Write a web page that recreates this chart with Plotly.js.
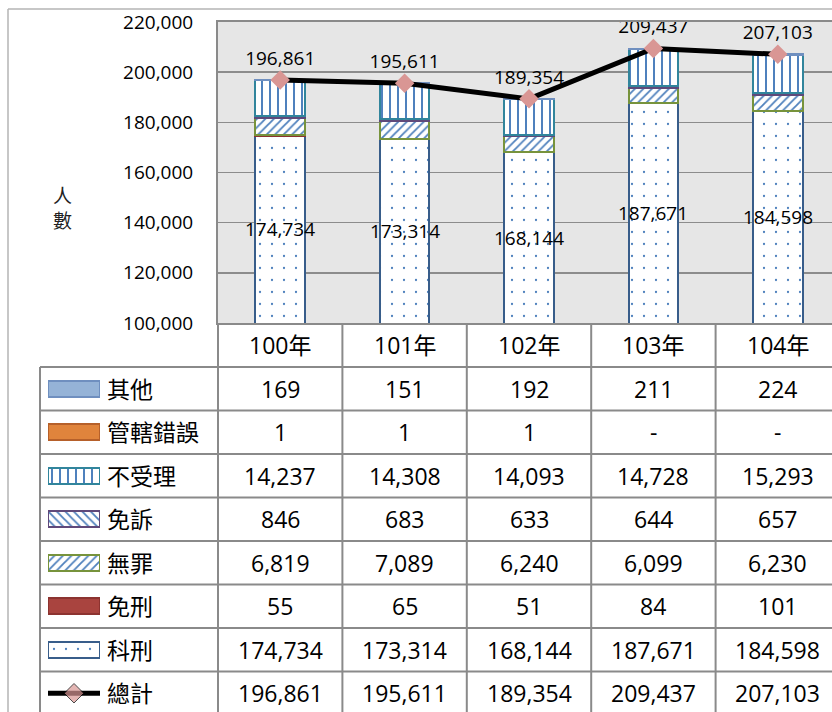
<!DOCTYPE html>
<html>
<head>
<meta charset="utf-8">
<script src="https://cdn.plot.ly/plotly-3.0.1.min.js"></script>
<style>
html, body { margin: 0; padding: 0; overflow: hidden; background: #fff; }
#chart { width: 850px; height: 712px; }
</style>
</head>
<body>
<div id="chart"></div>
<script>
// ---- data ----
const years = ['100年', '101年', '102年', '103年', '104年'];
const rowLabels = ['其他', '管轄錯誤', '不受理', '免訴', '無罪', '免刑', '科刑', '總計'];
const other = [169, 151, 192, 211, 224];              // 其他
const jurisdictionError = [1, 1, 1, null, null];      // 管轄錯誤
const notAccepted = [14237, 14308, 14093, 14728, 15293]; // 不受理
const dismissed = [846, 683, 633, 644, 657];          // 免訴
const acquitted = [6819, 7089, 6240, 6099, 6230];     // 無罪
const exempted = [55, 65, 51, 84, 101];               // 免刑
const sentenced = [174734, 173314, 168144, 187671, 184598]; // 科刑
const total = [196861, 195611, 189354, 209437, 207103];     // 總計
const yTicks = [100000, 120000, 140000, 160000, 180000, 200000, 220000];

// ---- layout helpers ----
const W = 850, H = 712;
const FONT = '"Open Sans", "Noto Sans CJK TC", sans-serif';
const px = x => x / W;
const py = y => 1 - y / H;
const fmt = v => (v === null || v === undefined) ? '-' : v.toLocaleString('en-US');
const BLUE = '#4F81BD';

// series styles, bottom -> top of stack
const series = [
  { name: '科刑', data: sentenced, color: '#ffffff', line: '#385D8A', pattern: { shape: '.', size: 12, solidity: 0.028 } },
  { name: '免刑', data: exempted, color: '#A9443F', line: '#8C3330' },
  { name: '無罪', data: acquitted, color: '#ffffff', line: '#77933C', pattern: { shape: '/', size: 6, solidity: 0.3 } },
  { name: '免訴', data: dismissed, color: '#ffffff', line: '#5F497A', pattern: { shape: '\\', size: 6, solidity: 0.3 } },
  { name: '不受理', data: notAccepted, color: '#ffffff', line: '#31859C', pattern: { shape: '|', size: 8, solidity: 0.25 } },
  { name: '管轄錯誤', data: jurisdictionError, color: '#E0843C', line: '#B6602A' },
  { name: '其他', data: other, color: '#95B3D7', line: '#6F8FBF' }
];

function markerFor(s) {
  const m = { color: s.color, line: { color: s.line, width: 2 } };
  if (s.pattern) {
    m.pattern = { shape: s.pattern.shape, size: s.pattern.size, solidity: s.pattern.solidity,
                  fgcolor: BLUE, bgcolor: '#ffffff', fillmode: 'replace' };
  }
  return m;
}

const traces = [];
series.forEach(s => {
  traces.push({
    type: 'bar', x: years, y: s.data, name: s.name, width: 0.4,
    marker: markerFor(s), hoverinfo: 'skip', showlegend: false
  });
});

traces.push({
  type: 'scatter', mode: 'lines+markers+text', x: years, y: total, name: '總計',
  text: total.map(fmt), textposition: 'top center',
  textfont: { family: FONT, size: 19, color: '#000' },
  line: { color: '#000', width: 5 },
  marker: { symbol: 'diamond', size: 15, color: '#D99694' },
  cliponaxis: false, hoverinfo: 'skip', showlegend: false
});

// legend keys inside the table (row index k)
rowLabels.forEach((lab, k) => {
  const s = series.find(q => q.name === lab);
  if (s) {
    traces.push({
      type: 'bar', orientation: 'h', xaxis: 'x2', yaxis: 'y2',
      x: [1], y: [k], base: 0, width: 0.36, marker: markerFor(s),
      hoverinfo: 'skip', showlegend: false
    });
  }
});
traces.push({
  type: 'scatter', mode: 'lines+markers', xaxis: 'x2', yaxis: 'y2',
  x: [-0.03, 0.5, 1.0], y: [7, 7, 7],
  line: { color: '#000', width: 5 },
  marker: { symbol: 'diamond', size: [0, 15, 0], color: '#D99694' },
  cliponaxis: false, hoverinfo: 'skip', showlegend: false
});

// ---- table geometry (pixels) ----
const tableTop = 367, rowH = 43.5;
const headerCenter = 345;
const rowCenter = k => tableTop + rowH * (k + 0.5);
const GRIDC = '#8A8A8A';

const shapes = [];
// gray plot background of the main chart only
shapes.push({ type: 'rect', xref: 'x domain', yref: 'y domain', x0: 0, x1: 1, y0: 0, y1: 1,
  fillcolor: '#E6E6E6', line: { width: 0 }, layer: 'below' });
// outer chart border
shapes.push({ type: 'line', xref: 'paper', yref: 'paper', x0: px(8), x1: 1, y0: py(9), y1: py(9), line: { color: '#B4B4B4', width: 1.5 } });
shapes.push({ type: 'line', xref: 'paper', yref: 'paper', x0: px(8), x1: px(8), y0: py(9), y1: 0, line: { color: '#B4B4B4', width: 1.5 } });
// horizontal table lines
for (let k = 0; k < rowLabels.length; k++) {
  const y = tableTop + rowH * k;
  shapes.push({ type: 'line', xref: 'paper', yref: 'paper', x0: px(40), x1: 1, y0: py(y), y1: py(y), line: { color: GRIDC, width: 2 } });
}
// vertical table lines
shapes.push({ type: 'line', xref: 'paper', yref: 'paper', x0: px(40), x1: px(40), y0: py(tableTop), y1: 0, line: { color: GRIDC, width: 2 } });
shapes.push({ type: 'line', xref: 'paper', yref: 'paper', x0: px(218), x1: px(218), y0: py(323), y1: 0, line: { color: GRIDC, width: 2 } });
for (let i = 0; i < years.length; i++) {
  shapes.push({ type: 'line', xref: 'x', yref: 'paper', x0: i + 0.5, x1: i + 0.5, y0: py(323), y1: 0, line: { color: GRIDC, width: 2 } });
}

const annotations = [];
const ann = o => Object.assign({ showarrow: false, xanchor: 'center', yanchor: 'middle' }, o);
// y axis title
annotations.push(ann({ xref: 'paper', yref: 'paper', x: px(62), y: py(208), text: '人<br>數',
  font: { family: FONT, size: 19, color: '#222' }, align: 'center' }));
// 科刑 labels inside bars
sentenced.forEach((v, i) => {
  annotations.push(ann({ xref: 'x', yref: 'y', x: i, y: (yTicks[0] + v) / 2, text: fmt(v),
    font: { family: FONT, size: 19, color: '#000' } }));
});
// header years
years.forEach((yr, i) => {
  annotations.push(ann({ xref: 'x', yref: 'paper', x: i, y: py(headerCenter), text: yr,
    font: { family: FONT, size: 23, color: '#000' } }));
});
// table rows
const rowData = [other, jurisdictionError, notAccepted, dismissed, acquitted, exempted, sentenced, total];
rowLabels.forEach((lab, k) => {
  annotations.push(ann({ xref: 'paper', yref: 'paper', x: px(105), y: py(rowCenter(k)), xanchor: 'left', text: lab,
    font: { family: FONT, size: 23, color: '#000' } }));
  rowData[k].forEach((v, i) => {
    annotations.push(ann({ xref: 'x', yref: 'paper', x: i, y: py(rowCenter(k)), text: fmt(v),
      font: { family: FONT, size: 23, color: '#000' } }));
  });
});

const layout = {
  width: W, height: H,
  margin: { l: 0, r: 0, t: 0, b: 0 },
  paper_bgcolor: '#ffffff', plot_bgcolor: 'rgba(0,0,0,0)',
  barmode: 'stack', showlegend: false,
  font: { family: FONT, color: '#000' },
  xaxis: {
    domain: [px(218), px(840)], type: 'category', range: [-0.5, 4.5],
    showticklabels: false, showgrid: false, zeroline: false, ticks: '',
    showline: true, linecolor: GRIDC, linewidth: 2, mirror: true, fixedrange: true
  },
  yaxis: {
    domain: [py(323), py(22)], range: [100000, 220000],
    tickvals: yTicks, tickformat: ',d',
    tickfont: { family: FONT, size: 19, color: '#000' },
    gridcolor: '#8C8C8C', gridwidth: 1.5, zeroline: false,
    showline: true, linecolor: GRIDC, linewidth: 2,
    ticks: 'outside', ticklen: 19, tickcolor: 'rgba(0,0,0,0)', fixedrange: true
  },
  xaxis2: { domain: [px(48), px(100)], range: [0, 1], visible: false, fixedrange: true, anchor: 'y2' },
  yaxis2: { domain: [0, py(tableTop)], range: [(H - tableTop) / rowH - 0.5, -0.5], visible: false, fixedrange: true, anchor: 'x2' },
  shapes: shapes,
  annotations: annotations
};

Plotly.newPlot('chart', traces, layout, { displayModeBar: false, staticPlot: true });
</script>
</body>
</html>
